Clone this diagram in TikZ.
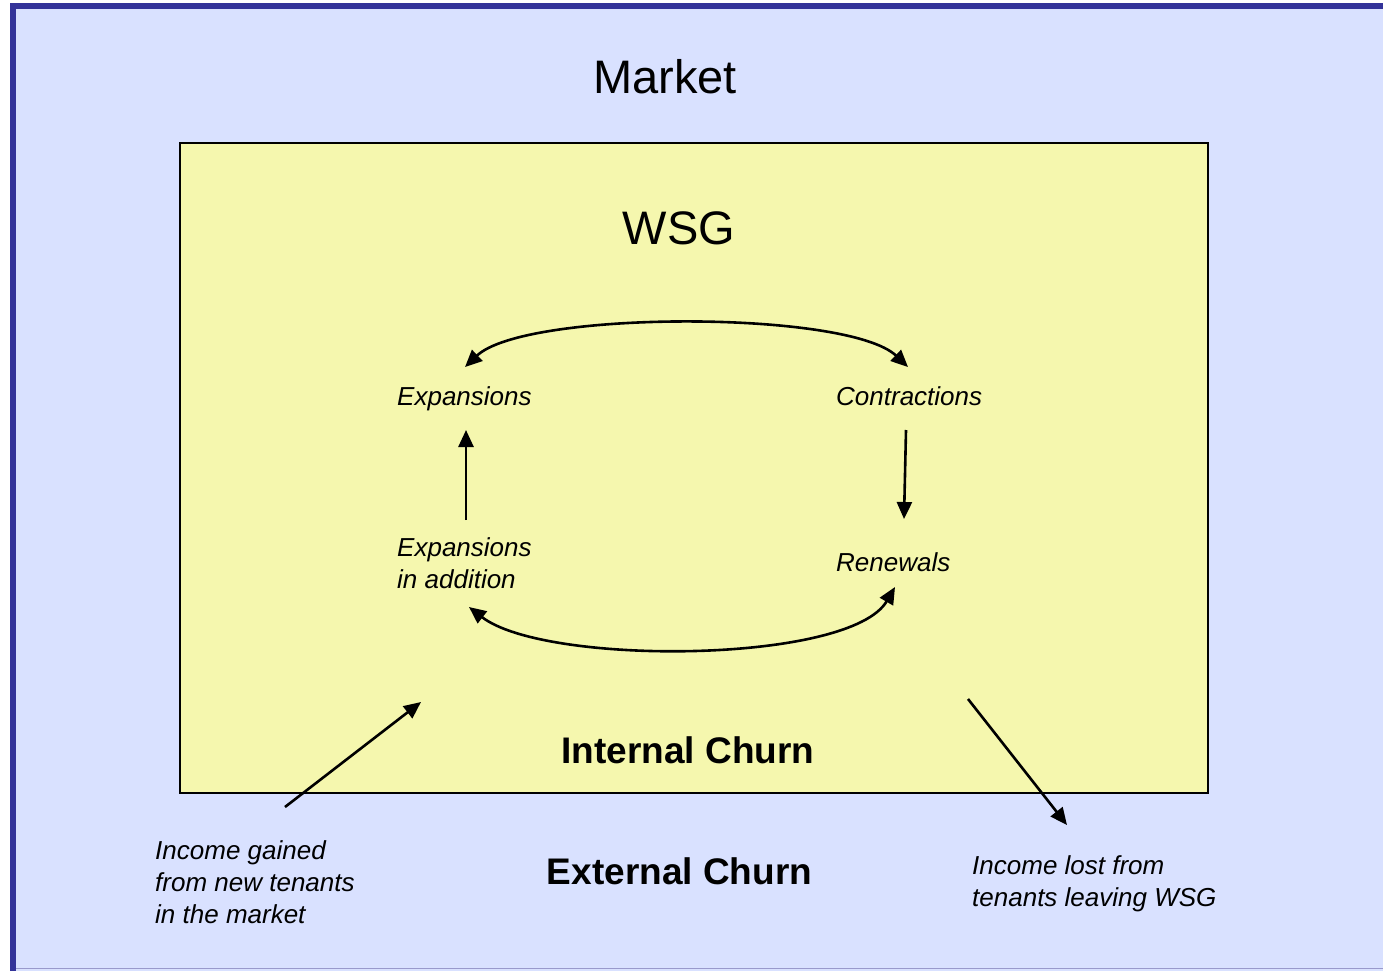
\documentclass[tikz,border=0pt]{standalone}
\usepackage{fontspec}
\setmainfont{Liberation Sans}
\usetikzlibrary{arrows.meta}
\definecolor{mktfill}{RGB}{217,225,255}
\definecolor{mktborder}{RGB}{51,51,153}
\definecolor{wsgfill}{RGB}{245,247,174}
\tikzset{
  conn/.style={line width=2.6pt, -{Triangle[length=17pt,width=15pt]}},
  bothconn/.style={line width=2.6pt, {Triangle[length=17pt,width=15pt]}-{Triangle[length=17pt,width=15pt]}},
  itlabel/.style={font=\fontsize{26}{32}\selectfont\itshape, inner sep=0pt, align=left, anchor=base west},
  bigtitle/.style={font=\fontsize{47}{56}\selectfont, inner sep=0pt, anchor=base},
  churn/.style={font=\fontsize{37}{44}\selectfont\bfseries, inner sep=0pt, anchor=base}
}
\begin{document}
\begin{tikzpicture}[x=1pt,y=-1pt]
\useasboundingbox (0,0) rectangle (1383,971);
\begin{scope}
\clip (0,0) rectangle (1383,971);
\fill[white] (0,0) rectangle (1383,971);
\draw[fill=mktfill, draw=mktborder, line width=6pt] (13,6) rectangle (1400,990);
\draw[color=mktborder!50, line width=1.5pt] (16,968.5) -- (1383,968.5);
\end{scope}
\node[draw=black, fill=wsgfill, line width=2pt, minimum width=1028pt, minimum height=650pt, inner sep=0pt, anchor=north west] (wsg) at (179,142) {};

\node[bigtitle] (market) at (665,94) {Market};
\node[bigtitle] (wsgt) at (679,244) {WSG};

\node[itlabel] (exp) at (397,405) {Expansions};
\node[itlabel] (con) at (836,405) {Contractions};
\node[itlabel] (expadd) at (397,588) {Expansions\\in addition};
\node[itlabel] (ren) at (836,571) {Renewals};

\node[churn] (internal) at (688,763) {Internal Churn};
\node[churn] (external) at (679.5,884) {External Churn};

\node[itlabel] (gained) at (155,923) {Income gained\\from new tenants\\in the market};
\node[itlabel] (lost) at (972,906) {Income lost from\\tenants leaving WSG};

\coordinate (expTop) at (465,367);
\coordinate (conTop) at (908,367);
\coordinate (expAddBot) at (469,607);
\coordinate (renBot) at (895,587);
\coordinate (expAddTop) at (466,520);
\coordinate (expBot) at (466,430);
\coordinate (conBot) at (906,430);
\coordinate (renTop) at (904,519);
\coordinate (gainStart) at (285,807);
\coordinate (gainEnd) at (421,702);
\coordinate (lostStart) at (968,699);
\coordinate (lostEnd) at (1067,825);

\draw[bothconn] (expTop) .. controls (525,310) and (848,310) .. (conTop);
\draw[bothconn] (expAddBot) .. controls (545,666) and (850,664) .. (renBot);
\draw[conn] (expAddTop) -- (expBot);
\draw[conn] (conBot) -- (renTop);
\draw[conn] (gainStart) -- (gainEnd);
\draw[conn] (lostStart) -- (lostEnd);
\end{tikzpicture}
\end{document}
